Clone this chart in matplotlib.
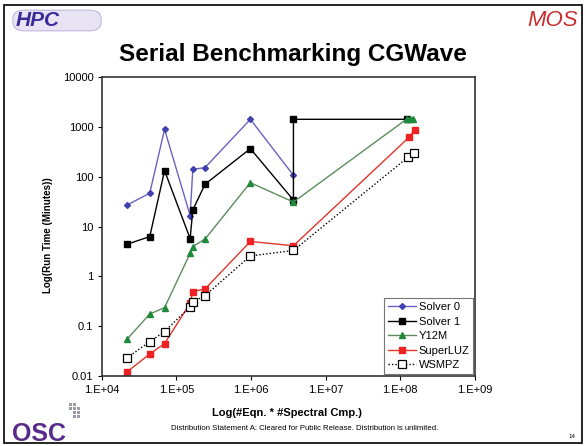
import numpy as np
import matplotlib
matplotlib.use('Agg')
import matplotlib.pyplot as plt
from matplotlib.patches import Rectangle, FancyBboxPatch

plt.rcParams['font.family'] = ['Liberation Sans', 'DejaVu Sans']

# problem size (#Eqn * #Spectral components) and run times in minutes
x_common = [2.18e4, 4.4e4, 6.95e4, 1.53e5, 1.66e5, 2.42e5, 9.8e5, 3.7e6]

solver0_x = x_common
solver0_y = [27, 46.6, 900, 16.6, 141, 153, 1430, 107]

solver1_x = x_common + [3.7e6, 1.22e8]
solver1_y = [4.4, 6.25, 133, 5.7, 21.5, 70.6, 368, 34, 1430, 1430]

y12m_x = x_common + [1.22e8, 1.34e8, 1.49e8]
y12m_y = [0.054, 0.174, 0.234, 2.89, 3.94, 5.6, 76, 31, 1450, 1450, 1450]

superluz_x = x_common + [1.31e8, 1.55e8]
superluz_y = [0.0119, 0.0273, 0.0442, 0.286, 0.49, 0.555, 5.0, 4.1, 624, 875]

wsmpz_x = x_common + [1.27e8, 1.53e8]
wsmpz_y = [0.0228, 0.0484, 0.0769, 0.245, 0.308, 0.407, 2.56, 3.3, 248, 306]

xticks = [1e4, 1e5, 1e6, 1e7, 1e8, 1e9]
xtick_labels = ['1.E+04', '1.E+05', '1.E+06', '1.E+07', '1.E+08', '1.E+09']
yticks = [0.01, 0.1, 1, 10, 100, 1000, 10000]
ytick_labels = ['0.01', '0.1', '1', '10', '100', '1000', '10000']

W, H = 586, 446
fig = plt.figure(figsize=(W/100, H/100), dpi=100)
fig.patch.set_facecolor('white')

# slide frame
fig.patches.append(Rectangle((4/W, 3/H), 578/W, 438/H, transform=fig.transFigure,
                             fill=False, edgecolor='black', lw=1.2))

ax = fig.add_axes([101.7/W, 1-375.7/H, 373.3/W, 298.4/H])
ax.set_xscale('log')
ax.set_yscale('log')

ax.plot(solver0_x, solver0_y, color='#6a62c0', lw=1, marker='D', ms=3,
        mfc='#4040b0', mec='#4040b0', label='Solver 0')
ax.plot(solver1_x, solver1_y, color='black', lw=1, marker='s', ms=5,
        mfc='black', mec='black', label='Solver 1')
ax.plot(y12m_x, y12m_y, color='#5c8c5c', lw=1, marker='^', ms=5,
        mfc='#1f8a3c', mec='#1f8a3c', label='Y12M')
ax.plot(superluz_x, superluz_y, color='#e0352a', lw=1, marker='s', ms=5,
        mfc='#ee2222', mec='#ee2222', label='SuperLUZ')
ax.plot(wsmpz_x, wsmpz_y, color='black', lw=1, ls=(0, (1, 1.5)), marker='s', ms=6,
        mfc='white', mec='black', mew=0.9, label='WSMPZ')

ax.set_xlim(1e4, 1e9)
ax.set_ylim(0.01, 10000)
ax.set_xticks(xticks)
ax.set_xticklabels(xtick_labels)
ax.set_yticks(yticks)
ax.set_yticklabels(ytick_labels)
ax.minorticks_off()
ax.tick_params(labelsize=8, length=3, width=0.8, direction='out')
ax.tick_params(axis='x', pad=4)
ax.tick_params(axis='y', pad=3)
for s in ax.spines.values():
    s.set_linewidth(1.2)
    s.set_color('#333333')

ax.set_xlabel('Log(#Eqn. * #Spectral Cmp.)', fontsize=8, fontweight='bold')
ax.xaxis.set_label_coords(0.496, -0.108)
ax.set_ylabel('Log(Run Time (Minutes))', fontsize=7, fontweight='bold')
ax.yaxis.set_label_coords(-0.130, 0.4715)

leg = ax.legend(loc='lower right', fontsize=8, frameon=True, fancybox=False,
                edgecolor='#555555', handlelength=2.6, handletextpad=0.2,
                borderpad=0.35, labelspacing=0.4, borderaxespad=0.15)
leg.get_frame().set_linewidth(0.8)

# slide title and decorations
fig.text(0.5, 1-54/H, 'Serial Benchmarking CGWave', fontsize=17.5, fontweight='bold',
         ha='center', va='center')

fig.patches.append(FancyBboxPatch((14/W, 1-30/H), 86/W, 19/H, transform=fig.transFigure,
                                  boxstyle='round,pad=0.002,rounding_size=0.02',
                                  fc='#e8e4f4', ec='#b0a8d8', lw=0.6))
fig.text(16/W, 1-20/H, 'HPC', fontsize=15, fontweight='bold', color='#3a2a9a',
         ha='left', va='center', style='italic')

fig.text(578/W, 1-21/H, 'MOS', fontsize=16, color='#c83030', ha='right', va='center',
         style='italic')

fig.text(12/W, 1-434/H, 'OSC', fontsize=18, fontweight='bold', color='#5a2a8a',
         ha='left', va='center')
# little dot pattern next to the OSC logo
for dx, dy in [(0, 0), (4, 0), (0, 4), (4, 4), (8, 4), (4, 8), (8, 8), (8, 12), (4, 12)]:
    fig.patches.append(Rectangle(((69 + dx)/W, 1-(406 + dy)/H), 3/W, 3/H,
                                 transform=fig.transFigure, fc='#9a9aa8', ec='none'))

fig.text(305/W, 1-428/H,
         'Distribution Statement A: Cleared for Public Release. Distribution is unlimited.',
         fontsize=5.6, ha='center', va='center')
fig.text(572/W, 1-436/H, '14', fontsize=4.5, ha='center', va='center')

fig.savefig('out.png', dpi=100)
